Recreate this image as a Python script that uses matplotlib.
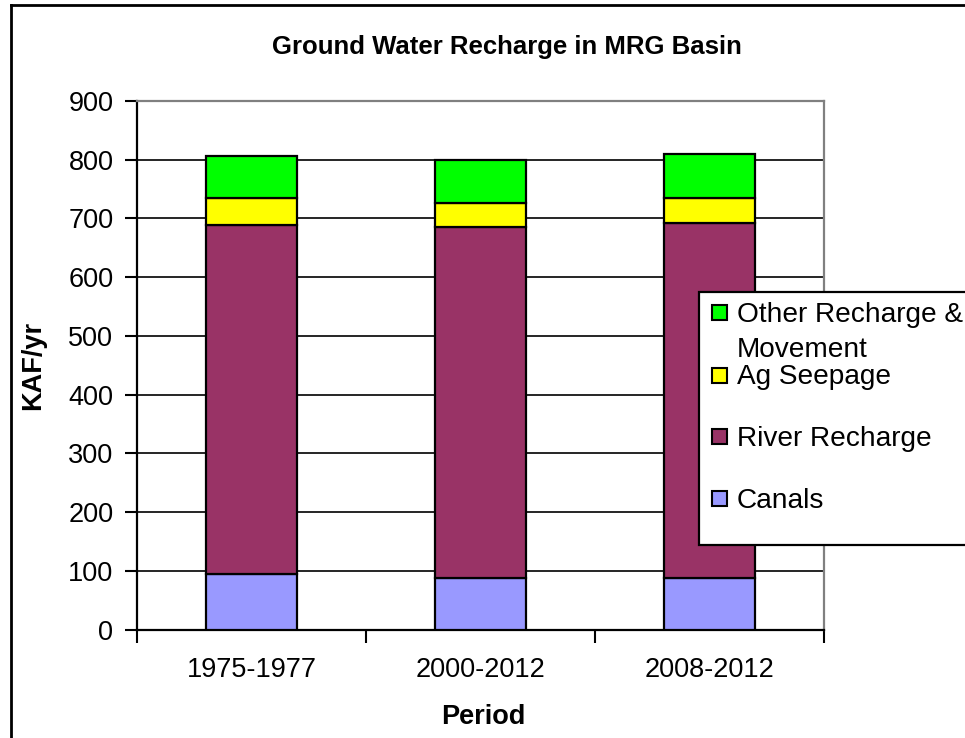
import matplotlib
matplotlib.use("Agg")
import matplotlib.pyplot as plt
from matplotlib.patches import Rectangle
from matplotlib.lines import Line2D

# ---- data ----
periods = ["1975-1977", "2000-2012", "2008-2012"]
canals = [95, 88, 88]
river = [594, 598, 605]
ag = [46, 41, 41]
other = [71, 72, 76]
series_names = ["Canals", "River Recharge", "Ag Seepage", "Other Recharge &\nMovement"]
colors = ["#9999FF", "#993366", "#FFFF00", "#00FF00"]
yticks = list(range(0, 901, 100))

plt.rcParams['font.family'] = ['Liberation Sans', 'DejaVu Sans']

W, H = 965, 738
fig = plt.figure(figsize=(W / 100, H / 100), dpi=100)
fig.patch.set_facecolor("white")

ax = fig.add_axes([137 / W, 1 - 629.5 / H, (824 - 137) / W, (629.5 - 101) / H])
x = list(range(len(periods)))
bottom = [0] * len(periods)
for vals, c, name in zip([canals, river, ag, other], colors, series_names):
    ax.bar(x, vals, 0.4, bottom=bottom, color=c, edgecolor="black",
           linewidth=1.6, label=name, zorder=3)
    bottom = [b + v for b, v in zip(bottom, vals)]

ax.set_xlim(-0.5, 2.5)
ax.set_ylim(0, 900)
ax.set_yticks(yticks)
ax.set_yticklabels([str(t) for t in yticks], fontsize=19.5)
ax.yaxis.grid(True, color="black", linewidth=1.2)
ax.set_axisbelow(True)

ax.set_xticks(x)
ax.set_xticklabels(periods, fontsize=19.5)
ax.set_xticks([-0.5, 0.5, 1.5, 2.5], minor=True)
ax.tick_params(axis="x", which="major", length=0, pad=20)
ax.tick_params(axis="x", which="minor", length=9, width=1.5, direction="out")
ax.tick_params(axis="y", length=9, width=1.5, direction="out", pad=8)

for s in ["top", "right"]:
    ax.spines[s].set_color("#808080")
    ax.spines[s].set_linewidth(1.6)
for s in ["left", "bottom"]:
    ax.spines[s].set_color("black")
    ax.spines[s].set_linewidth(1.6)

# titles
fig.text(507 / W, 1 - 47 / H, "Ground Water Recharge in MRG Basin",
         ha="center", va="center", fontsize=18.5, fontweight="bold")
fig.text(483 / W, 1 - 717 / H, "Period", ha="center", va="center",
         fontsize=19.5, fontweight="bold")
fig.text(33 / W, 1 - 365 / H, "KAF/yr", ha="center", va="center",
         rotation=90, fontsize=19.5, fontweight="bold")

# legend (manual, Excel style)
fig.patches.append(Rectangle((699 / W, 1 - 545 / H), 400 / W, (545 - 292) / H,
                             transform=fig.transFigure, facecolor="white",
                             edgecolor="black", linewidth=1.6, zorder=5))
centers = [312.5, 375, 436.5, 498]
order = [3, 2, 1, 0]
for cy, idx in zip(centers, order):
    fig.patches.append(Rectangle((712 / W, 1 - (cy + 7.5) / H), 15 / W, 15 / H,
                                 transform=fig.transFigure, facecolor=colors[idx],
                                 edgecolor="black", linewidth=1.5, zorder=6))
    lines = series_names[idx].split("\n")
    for k, ln in enumerate(lines):
        fig.text(737 / W, 1 - (cy + 9.5 + 35 * k) / H, ln, ha="left",
                 va="baseline", fontsize=20.2, zorder=7)

# outer border (partly cropped)
fig.lines.append(Line2D([11 / W, 1.0], [1 - 5 / H, 1 - 5 / H],
                        transform=fig.transFigure, color="black", linewidth=2))
fig.lines.append(Line2D([11 / W, 11 / W], [1 - 5 / H, 0.0],
                        transform=fig.transFigure, color="black", linewidth=2))

fig.savefig("out.png", dpi=100)
